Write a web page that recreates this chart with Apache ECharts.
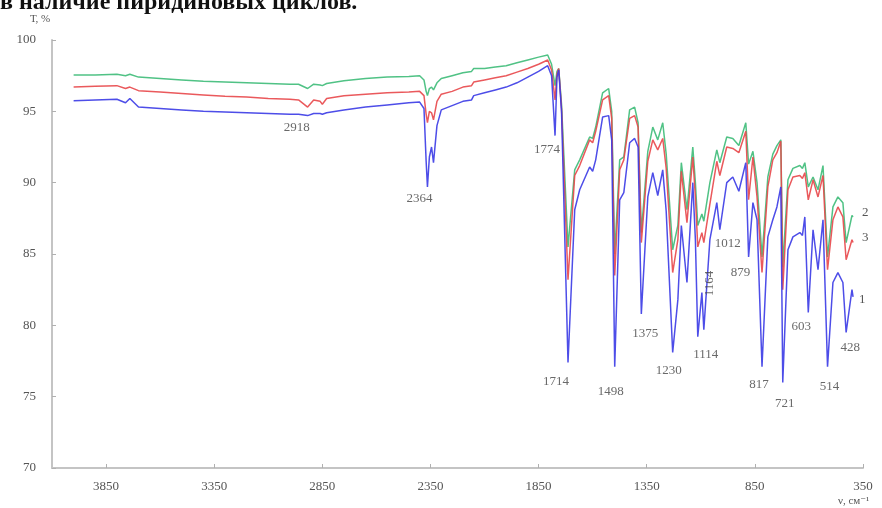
<!DOCTYPE html>
<html>
<head>
<meta charset="utf-8">
<script src="https://cdn.jsdelivr.net/npm/echarts@6/dist/echarts.min.js"></script>
<style>
  html, body { margin: 0; padding: 0; background: #ffffff; }
  #chart { width: 882px; height: 508px; }
</style>
</head>
<body>
<div id="chart"></div>
<script>
// IR transmission spectra, wavenumber in cm^-1 (descending), T in %
const wavenumbers = [4000, 3900, 3800, 3760, 3740, 3700, 3600, 3500, 3400, 3300, 3200, 3100, 3000, 2960, 2918, 2890, 2860, 2850, 2830, 2750, 2650, 2550, 2450, 2400, 2380, 2370, 2364, 2355, 2345, 2336, 2320, 2300, 2250, 2200, 2160, 2150, 2100, 2050, 2000, 1950, 1900, 1850, 1808, 1790, 1774, 1765, 1757, 1744, 1714, 1683, 1660, 1614, 1600, 1586, 1554, 1526, 1512, 1498, 1475, 1456, 1429, 1406, 1390, 1375, 1345, 1322, 1299, 1276, 1260, 1230, 1206, 1190, 1164, 1137, 1125, 1114, 1095, 1086, 1058, 1026, 1012, 980, 952, 924, 892, 879, 859, 840, 817, 790, 767, 748, 730, 721, 697, 674, 642, 630, 619, 603, 581, 558, 535, 514, 489, 466, 443, 428, 401, 396];

// sample 1 (blue)
const sample1 = [95.75, 95.8, 95.85, 95.6, 95.9, 95.3, 95.2, 95.1, 95.0, 94.95, 94.9, 94.85, 94.8, 94.8, 94.7, 94.85, 94.85, 94.8, 94.9, 95.1, 95.3, 95.45, 95.6, 95.65, 95.2, 91.5, 89.7, 91.8, 92.5, 91.4, 94.0, 95.1, 95.4, 95.7, 95.8, 96.1, 96.3, 96.5, 96.7, 97.0, 97.4, 97.8, 98.2, 97.5, 93.3, 97.4, 97.9, 95.0, 77.4, 88.1, 89.5, 91.1, 90.8, 91.6, 94.6, 94.7, 93.0, 77.1, 88.8, 89.3, 92.8, 93.1, 92.5, 80.8, 89.0, 90.7, 89.1, 90.9, 88.0, 78.1, 81.8, 87.0, 83.0, 90.0, 86.0, 79.2, 82.3, 79.7, 86.0, 88.6, 86.7, 90.0, 90.4, 89.4, 91.4, 84.8, 88.6, 87.4, 77.1, 86.2, 87.4, 88.3, 89.7, 76.0, 85.3, 86.2, 86.5, 86.3, 87.6, 80.9, 86.7, 83.9, 87.4, 77.1, 83.0, 83.7, 83.0, 79.5, 82.5, 82.0];

// sample 2 (green)
const sample2 = [97.55, 97.55, 97.6, 97.5, 97.6, 97.4, 97.3, 97.2, 97.1, 97.05, 97.0, 96.95, 96.9, 96.9, 96.6, 96.9, 96.85, 96.8, 96.95, 97.15, 97.3, 97.4, 97.45, 97.5, 97.2, 96.4, 96.1, 96.6, 96.7, 96.5, 97.0, 97.3, 97.5, 97.7, 97.8, 98.0, 98.0, 98.1, 98.2, 98.4, 98.6, 98.8, 98.95, 98.3, 96.8, 97.8, 98.0, 95.5, 85.5, 90.9, 91.6, 93.2, 93.1, 93.9, 96.3, 96.6, 95.0, 85.0, 91.6, 91.8, 95.1, 95.3, 94.2, 86.5, 92.2, 93.9, 93.0, 94.2, 92.0, 85.3, 87.0, 91.4, 88.1, 92.5, 90.0, 87.0, 87.8, 87.3, 90.0, 92.3, 91.4, 93.2, 93.1, 92.6, 94.2, 91.3, 92.2, 90.0, 84.8, 90.4, 92.0, 92.6, 93.0, 84.1, 90.2, 91.0, 91.2, 91.0, 91.4, 89.7, 90.4, 89.5, 91.2, 84.8, 88.3, 89.0, 88.6, 85.8, 87.7, 87.6];

// sample 3 (red)
const sample3 = [96.7, 96.75, 96.8, 96.6, 96.7, 96.45, 96.35, 96.25, 96.15, 96.05, 96.0, 95.9, 95.85, 95.8, 95.3, 95.8, 95.7, 95.5, 95.9, 96.1, 96.2, 96.3, 96.35, 96.4, 96.1, 94.8, 94.2, 95.0, 94.9, 94.4, 95.7, 96.2, 96.4, 96.7, 96.8, 97.05, 97.2, 97.35, 97.5, 97.75, 98.0, 98.3, 98.6, 97.9, 95.8, 97.6, 98.0, 95.2, 83.2, 90.5, 91.2, 93.0, 92.8, 93.6, 95.8, 96.1, 94.5, 83.5, 90.9, 91.6, 94.5, 94.7, 93.9, 85.8, 91.5, 93.0, 92.3, 93.1, 91.0, 83.7, 86.0, 90.8, 87.2, 91.8, 89.0, 85.5, 86.5, 85.8, 88.5, 91.5, 90.5, 92.5, 92.4, 92.1, 93.6, 88.8, 91.8, 89.0, 83.7, 89.7, 91.6, 92.1, 92.9, 82.5, 89.5, 90.4, 90.5, 90.3, 90.7, 88.8, 90.2, 89.0, 90.5, 83.9, 87.4, 88.3, 87.6, 84.6, 86.0, 85.8];

// marked absorption bands, cm^-1
const bandPeaks = [2918, 2364, 1774, 1714, 1498, 1375, 1230, 1164, 1114, 1012, 879, 817, 721, 603, 514, 428];

// axis ticks
const xTicks = [350, 850, 1350, 1850, 2350, 2850, 3350, 3850];
const yTicks = [70, 75, 80, 85, 90, 95, 100];

// label placement around each band minimum (pixels) and rotation
const bandLabelStyle = {
  2918: { offset: [-11, 12] },
  2364: { offset: [-8, 12] },
  1774: { offset: [-8, 14] },
  1714: { offset: [-12, 19] },
  1498: { offset: [-4, 25] },
  1375: { offset: [4, 20] },
  1230: { offset: [-4, 18] },
  1164: { offset: [-1, 23], rotate: 90 },
  1114: { offset: [8, 18] },
  1012: { offset: [8, 14] },
  879:  { offset: [-8, 16] },
  817:  { offset: [-3, 18] },
  721:  { offset: [2, 21] },
  603:  { offset: [-7, 14] },
  514:  { offset: [2, 20] },
  428:  { offset: [4, 15] }
};

const serif = '"Liberation Serif", "DejaVu Serif", serif';
const toPairs = (vals) => wavenumbers.map((w, i) => [w, vals[i]]);
const last = wavenumbers.length - 1;

const bandData = bandPeaks.map((w) => {
  const st = bandLabelStyle[w];
  return {
    name: String(w),
    value: [w, sample1[wavenumbers.indexOf(w)]],
    label: { offset: st.offset, rotate: st.rotate || 0 }
  };
});

// each curve gets its sample number next to its last point
function spectrum(name, vals, color, tagOffset, z) {
  return {
    name: name,
    type: 'line',
    data: toPairs(vals),
    showSymbol: false,
    smooth: false,
    z: z,
    lineStyle: { color: color, width: 1.5, opacity: 0.9 },
    itemStyle: { color: color },
    markPoint: {
      symbol: 'circle',
      symbolSize: 0,
      silent: true,
      animation: false,
      data: [{ coord: [wavenumbers[last], vals[last]] }],
      label: {
        show: true,
        position: 'right',
        distance: 9,
        offset: tagOffset,
        formatter: name,
        color: '#555',
        fontFamily: serif,
        fontSize: 13
      }
    },
    emphasis: { disabled: true },
    animation: false
  };
}

const chart = echarts.init(document.getElementById('chart'), null, { renderer: 'canvas' });

chart.setOption({
  backgroundColor: '#ffffff',
  animation: false,
  grid: { left: 52, right: 19, top: 40, bottom: 40 },
  xAxis: {
    type: 'value',
    inverse: true,
    min: 350,
    max: 4100,
    interval: 500,
    axisLine: { show: true, lineStyle: { color: '#c4c4c4', width: 2 } },
    axisTick: { show: true, inside: true, length: 4, lineStyle: { color: '#b0b0b0' } },
    axisLabel: {
      showMaxLabel: false,
      margin: 12,
      color: '#555',
      fontFamily: serif,
      fontSize: 13,
      formatter: (v) => (xTicks.indexOf(v) >= 0 ? String(v) : '')
    },
    splitLine: { show: false }
  },
  yAxis: {
    type: 'value',
    min: 70,
    max: 100,
    interval: 5,
    axisLine: { show: true, lineStyle: { color: '#c4c4c4', width: 2 } },
    axisTick: { show: true, inside: true, length: 4, lineStyle: { color: '#b0b0b0' } },
    axisLabel: {
      margin: 16,
      color: '#555',
      fontFamily: serif,
      fontSize: 13,
      formatter: (v) => (yTicks.indexOf(v) >= 0 ? String(v) : '')
    },
    splitLine: { show: false }
  },
  graphic: [
    {
      type: 'text',
      left: 0,
      top: -9,
      style: {
        text: 'в наличие пиридиновых циклов.',
        fill: '#111',
        font: 'bold 24px ' + serif
      }
    },
    {
      type: 'text',
      left: 30,
      top: 14,
      style: { text: 'Т, %', fill: '#555', font: '11px ' + serif }
    },
    {
      type: 'text',
      left: 838,
      top: 496,
      style: { text: 'ν, см⁻¹', fill: '#555', font: '11px ' + serif }
    }
  ],
  series: [
    spectrum('2', sample2, '#3dbb78', [0, -4], 2),
    spectrum('3', sample3, '#e8474a', [0, -5], 3),
    spectrum('1', sample1, '#3a3ae6', [-3, 3], 4),
    {
      name: 'bands',
      type: 'scatter',
      data: bandData,
      symbolSize: 0,
      z: 10,
      silent: true,
      label: {
        show: true,
        position: 'inside',
        formatter: (p) => p.name,
        color: '#444',
        fontFamily: serif,
        fontSize: 13
      },
      animation: false
    }
  ]
});
</script>
</body>
</html>
